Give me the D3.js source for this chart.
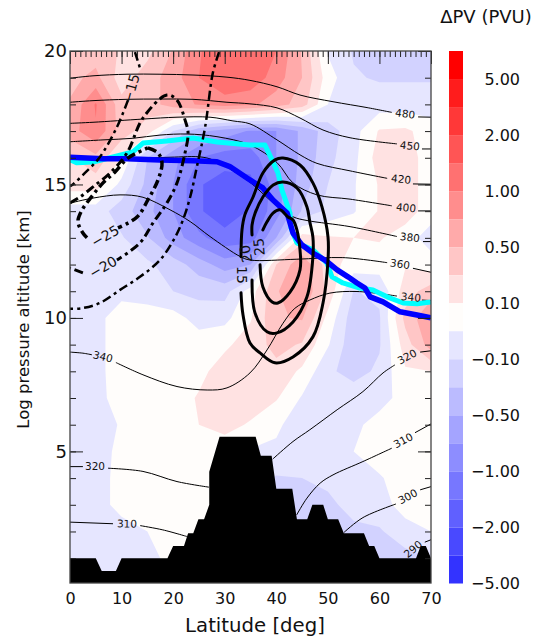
<!DOCTYPE html>
<html>
<head>
<meta charset="utf-8">
<script src="https://cdn.jsdelivr.net/npm/d3@7"></script>
<style>
  html, body { margin: 0; padding: 0; background: #fff; }
  svg { display: block; }
  text { font-family: "DejaVu Sans", sans-serif; fill: #111; }
</style>
</head>
<body>
<div id="chart-area"></div>
<script>
//============================DATA============================
// PV anomaly on a 5 deg x 1 km grid. Values are in colour bar
// steps (0 = the white step, +1 the first pink step, -1 the first blue step, ...)
var gridLats = [0, 5, 10, 15, 20, 25, 30, 35, 40, 45, 50, 55, 60, 65, 70];
var gridKms = [20, 19, 18, 17, 16, 15, 14, 13, 12, 11, 10, 9, 8, 7, 6, 5, 4, 3, 2, 1, 0];
var pvSteps = [
  [2, 2, 1.4, 1.2, 2.6, 4.4, 5.3, 5.4, 4.5, 2.4, -0.6, -1.6, -1.7, -1.9, -1.6],
  [2.2, 2.8, 1, 2, 3, 4.5, 5.4, 5.2, 4, 2.5, 0, -1.4, -1.6, -1.6, -1.6],
  [2.6, 4.6, 1.8, 2, 3, 3.6, 4, 3.7, 3, 2, -0.5, -1.2, -1, -1, -1],
  [3, 4.4, 2, 1, -1.5, -3.2, -4, -4.6, -4.5, -3.3, -2, -0.9, 0.6, 0.7, 0],
  [1.4, 2.2, 0.5, -2.5, -4.2, -5.5, -6, -6, -4.5, -3.3, -1.8, -0.8, 1, 1, 0],
  [1, 1, -0.8, -2.8, -4.5, -6.4, -7, -6.8, -5, -3, -1.5, -0.6, 0.6, 1, 0],
  [-1, -1, -2, -3.2, -4.5, -6.4, -7, -6.4, -5, -2.4, -1.2, -0.6, 0.6, 1, 0],
  [-1, -1, -1.4, -2.4, -4, -5.2, -6.2, -6, -3.5, 1, 0.6, 0.5, 0.6, 0, -1],
  [-1, -1, -1, -1.3, -2, -3, -4, -3.5, 1.5, 3.3, 1, 0, 0, 0.4, 0],
  [-1, -1, -0.8, -1, -1.5, -1.8, -1.9, 0, 2.4, 3.4, 1.2, -1.55, -1.3, 1, 2],
  [-1, -0.8, 0, 0, -0.1, -0.9, -0.8, 0.4, 2.4, 2.6, 0.2, -2.1, -1.6, 1.8, 3.4],
  [-1, -0.8, 0, 0, 0, 0, 0.3, 1, 1.8, 1.4, -0.4, -2.2, -1.6, 1, 3],
  [-1, -0.8, 0, 0, 0, 0.2, 1, 1.1, 1.2, 0.3, -1.3, -1.9, -1.3, 0.4, 0.5],
  [-1, -0.8, -0.1, 0, 0, 0.6, 1, 1, 0.6, -0.6, -1, -0.9, -1, 0, 0],
  [-1, -1, -0.4, 0, 0, 0.5, 0.8, 0.4, -0.4, -0.8, -1, -0.8, 0, 0, 0],
  [-1, -1, -0.2, 0, 0, 0, 0, -0.6, -0.6, -1, -1, -0.5, 0, 0, 0],
  [-1, -1, -0.1, 0, 0, 0, 0, -1, -1.6, -1.5, -1.3, -1, -0.6, 0, 0],
  [-1, -1, -0.1, 0, 0, 0, 0, -1, -1.6, -1.6, -1.7, -1.2, -1, 0, 0],
  [-1, -1, -1, -0.5, 0, 0, 0, -1, -1.6, -1.6, -1.7, -1.7, -1.6, -1, -0.5],
  [-1, -1, -1, -1, 0, 0, 0, -1, -2, -2, -2, -2, -2, -1.8, -1.5],
  [-1, -1, -1, -1, 0, 0, 0, -1, -2, -2, -2, -2, -2, -1.8, -1.5]
];

// colour bar, top to bottom
var barColors = ["#ff0000", "#ff1c1c", "#ff3838", "#ff5555", "#ff7171", "#ff8d8d", "#ffaaaa", "#ffc6c6", "#ffe2e2",
  "#fffdfb",
  "#e6e6ff", "#d2d2ff", "#bbbbff", "#a4a4ff", "#8d8dff", "#7777ff", "#6060ff", "#4949ff", "#3333ff"];
var barTickLabels = ["5.00", "2.00", "1.00", "0.50", "0.10", "\u22120.10", "\u22120.50", "\u22121.00", "\u22122.00", "\u22125.00"];

// isentropes as [lat, km], null = break for the inline label
var theta480 = [[0,18.98],[4.46,19.07],[11.05,19.13],[17.45,19.13],[23.85,19.10],[30.44,19.02],[34.9,18.9],[40.14,18.66],[44.6,18.35],[51,18.10],[57.6,17.88],[62.4,17.70],null,[67.5,17.53],[70,17.52]];
var theta450 = [[0,18.08],[4.46,18.14],[11.05,18.19],[17.45,18.20],[23.85,18.19],[30.44,18.08],[34.9,18.02],[40.14,17.87],[44.6,17.49],[49.06,17.04],[54.3,16.75],[63.4,16.52],null,[68.25,16.33],[70,16.33]];
var theta420 = [[0,17.29],[4.46,17.33],[14.15,17.45],[20.75,17.52],[27.15,17.52],[31.6,17.38],[34.9,17.27],[40.14,16.67],[44.6,16.11],[47.9,15.79],[54.3,15.51],[61.5,15.23],null,[66.5,15.02],[70,15.01]];
var theta400 = [[0,16.60],[6.4,16.67],[12.2,16.73],[17.45,16.85],[22.7,16.89],[28.5,16.79],[34.9,16.48],[40.14,15.82],[43.24,15.06],[47.9,14.61],[54.3,14.45],[62.4,14.2],null,[67.5,14.01],[70,14.01]];
var theta380 = [[0,15.85],[6.4,15.92],[12.2,15.96],[19.4,16.02],[25.8,16.02],[28.5,15.85],[34.9,15.08],[39.4,14.31],[43.24,13.79],[45.95,13.65],[54.3,13.42],[63.4,13.05],null,[68.45,12.86],[70,12.86]];
var theta360 = [[0,14.30],[4.46,14.49],[9.7,14.61],[14.15,14.52],[19.4,14.05],[23.3,13.61],[27.15,13.05],[33,12.30],[34.9,12.17],[44,12.2],[52.9,12.26],[61.5,12.07],null,[66.5,11.86],[70,11.71]];
var theta340 = [[0,8.72],[2.5,8.68],[4.27,8.62],null,[8.9,8.33],[14.15,7.87],[20.75,7.43],[26.6,7.30],[30.44,7.38],[34.9,7.94],[38.2,8.80],[41.3,9.80],[43.6,10.36],[46.5,10.67],[50.4,10.93],[55.65,10.99],[63.4,10.82],null,[68.25,10.67],[70,10.65]];
var theta320 = [[0,4.43],[2.5,4.43],null,[7.37,4.37],[14.15,4.25],[20.75,3.87],[26.95,3.66],null,[39.3,4.71],[43.24,5.37],[46.5,5.81],[51.8,6.56],[56.8,7.24],[60.7,7.94],[63,8.24],null,[67.9,8.72],[70,8.77]];
var theta310 = [[0,2.35],[8.34,2.29],null,[13.6,2.22],[18,2.06],[22.7,1.81],null,[43.95,2.62],[45.95,3.25],[48.5,3.81],[51,4.12],[56.8,4.62],[62.4,5.12],null,[66.9,5.70],[70,6.03]];
var theta300 = [[53.1,1.96],[56.8,2.52],[63.2,3.03],null,[67.9,3.56],[70,3.68]];
var theta290 = [[68.8,1.60],[70,1.69]];
var thetaLines = [theta480, theta450, theta420, theta400, theta380, theta360, theta340, theta320, theta310, theta300, theta290];

// inline labels: [text, lat, km, rotation]
var thetaLabels = [
  ["480", 65, 17.65, 7], ["450", 65.9, 16.45, 6], ["420", 64.2, 15.2, 6], ["400", 65.15, 14.13, 6],
  ["380", 65.9, 13.02, 6], ["360", 64, 12.02, 8], ["340", 6.4, 8.55, 14], ["340", 66.1, 10.78, 5],
  ["320", 4.85, 4.46, 0], ["320", 65.35, 8.55, -28], ["310", 11.05, 2.29, 1], ["310", 64.6, 5.41, -28],
  ["300", 65.5, 3.31, -28], ["290", 66.5, 1.34, -40]
];

// westerly wind contours
var wind15 = [[33.16,10.94],[33.55,10.11],[34.9,9.06],[36.85,8.69],[39.75,8.32],[43.24,8.54],[47.1,9.29],[49.06,10.56],[50.03,12.17],[50.03,13.03],[48.86,14.16],[47.1,15.06],[44.6,15.73],[41.3,15.99],[39.75,15.92],[37.4,15.43],[35.5,14.53],[33.9,13.86],[33.35,13.30],[33.16,12.29]];
var wind20 = [[35.3,11.42],[35.87,10.19],[38.2,9.48],[40.14,9.44],[43.24,9.85],[45.95,10.79],[47.1,12.29],[47.1,13.03],[46.5,13.60],[45.95,14.16],[44,14.87],[41.3,15.09],[39.4,14.98],[37.4,14.53],[35.9,13.93],[35.3,13.48],[35.3,13.11]];
var wind25 = [[36.85,11.99],[37.4,11.16],[39.2,10.6],[40.3,10.56],[42.66,10.97],[44.6,11.8],[44.6,12.55],[44,13.3],[43.24,13.67],[42.27,13.78],[40.7,14.05],[39.36,13.93],[38.2,13.6],[37.4,13.3]];

// easterly wind contours
var windMinus15a = [[12.6,19.96],[13.57,19.36],null,[11.25,18.16],[9.1,17.15],[5.8,16.03],[2.9,15.43],[0.4,14.98],[0,14.94]];
var windMinus15b = [[28.9,19.96],[27.7,19.18],[26.2,17.15],[24.6,15.66],[23.3,14.53],[21.9,13.67],[20.4,13.03],[17.45,12.17],[13.57,11.54],[9.7,11.05],[5.8,10.56],[2.5,10.37],[0,10.34]];
var windMinus20 = [[0,14.31],[1.94,14.53],[4.46,14.91],[7.76,15.43],[11.05,16.18],[14.15,17.49],[18.8,18.35],[20.75,18.16],[22.3,17.42],[22.9,16.93],[22.3,16.18],[20.75,15.06],[18.8,14.31],[16.1,13.56],[13.57,12.81],[9.1,12.17],null,[2.5,11.69],[0,11.87]];
var windMinus25 = [[15.1,16.37],[17.06,16.18],[17.84,15.81],[17.06,15.17],[15.1,14.42],[13,13.78],[9.3,13.37],null,[3.3,13.0],[2.5,13.18],[1.55,13.6],[2.13,13.97],[4.46,14.61],[6.4,15.06],[8.73,15.47],[11.25,15.99],[15.1,16.37]];

var windLabels = [
  ["25", 36.65, 12.66, -95], ["20", 34.1, 12.4, -100], ["15", 33.35, 11.61, 90],
  ["\u221215", 11.83, 18.6, -75], ["\u221225", 6.8, 13.07, -30], ["\u221220", 6.4, 11.91, -30]
];

// tropopause, two analyses
var tropoCyan = [[0,15.92],[1.36,15.81],[4.46,15.84],[8.34,16.03],[12.2,16.22],[14.15,16.55],[18.8,16.63],[23.85,16.74],[28.5,16.59],[34.9,16.48],[37.8,16.48],[39.17,15.92],[40.33,15.43],[41.1,14.79],[42.66,13.93],[42.85,13.37],[44,12.81],[47.1,12.55],[49.8,12.06],[50.8,11.54],[52.9,11.31],[56.2,11.12],[58.75,11.05],[62,10.75],[64.6,10.56],[67.3,10.53],[70,10.60]];
var tropoBlue = [[0,16.02],[6.4,15.96],[11.05,15.96],[17.45,15.92],[23.85,15.89],[28.5,15.85],[31,15.67],[34.9,15.17],[37.4,14.87],[39.36,14.42],[42.1,13.93],[43.24,13.18],[45,12.73],[47.1,12.43],[49.44,12.17],[51.8,11.8],[53.9,11.54],[55.65,11.31],[57.2,11.12],[58.2,10.79],[60.7,10.6],[64,10.23],[67.3,10.11],[70,10.0]];

// surface height
var terrain = [[0,1],[5,1],[6.15,0.52],[8.9,0.52],[10,1],[18.9,1],[20,1.46],[22.1,1.46],[22.9,1.93],[23.9,1.93],[24.9,2.46],[26,2.46],[27,3],[27,4.24],[29,5.55],[36,5.55],[37,4.84],[39.1,4.84],[40,3.6],[43.1,3.6],[44,2.46],[46,2.46],[47,3],[49.1,3],[50,2.46],[52,2.46],[53.1,1.93],[57,1.93],[58,1.46],[59,1.46],[60,1],[67.1,1],[68,1.46],[69,1.46],[70,1]];

var latTicks = [0, 10, 20, 30, 40, 50, 60, 70];
var kmTicks = [5, 10, 15, 20];

//============================LAYOUT============================
var margins = { left: 70, right: 110, top: 51, bottom: 54 };
var width = 541 - margins.left - margins.right;
var height = 637 - margins.top - margins.bottom;

var svg = d3.select("#chart-area").append("svg")
    .attr("width", 541)
    .attr("height", 637);

var g = svg.append("g")
    .attr("transform", "translate(" + margins.left + ", " + margins.top + ")");

var x = d3.scaleLinear().domain([0, 70]).range([0, width]);
var y = d3.scaleLinear().domain([0.07, 20]).range([height, 0]);

svg.append("defs").append("clipPath").attr("id", "plot-clip")
  .append("rect").attr("width", width).attr("height", height);

var plot = g.append("g").attr("clip-path", "url(#plot-clip)");

//============================FILLED CONTOURS============================
var nx = gridLats.length, ny = gridKms.length;
var flat = d3.merge(pvSteps);

// contour space has grid node i at i + 0.5
var gridPath = d3.geoPath(d3.geoTransform({
  point: function(px, py) {
    this.stream.point(x((px - 0.5) * 5), y(20 - (py - 0.5)));
  }
}));

plot.append("rect").attr("width", width).attr("height", height).attr("fill", barColors[9]);

var contours = d3.contours().size([nx, ny]);

// reds, weakest first, then the blues on negated values
for (let k = 1; k <= 9; ++k)
{
  plot.append("path")
    .attr("d", gridPath(contours.contour(flat, k - 0.5)))
    .attr("fill", barColors[9 - k]);
}
var flatNeg = flat.map(function(v) { return -v; });
for (let k = 1; k <= 9; ++k)
{
  plot.append("path")
    .attr("d", gridPath(contours.contour(flatNeg, k - 0.5)))
    .attr("fill", barColors[9 + k]);
}

//============================LINES============================
var smoothLine = d3.line()
  .defined(function(d) { return d !== null; })
  .curve(d3.curveCatmullRom)
  .x(function(d) { return x(d[0]); })
  .y(function(d) { return y(d[1]); });

var straightLine = d3.line()
  .x(function(d) { return x(d[0]); })
  .y(function(d) { return y(d[1]); });

thetaLines.forEach(function(line) {
  plot.append("path").attr("d", smoothLine(line))
    .attr("fill", "none").attr("stroke", "#000").attr("stroke-width", 1);
});

plot.append("path").attr("d", straightLine(tropoCyan))
  .attr("fill", "none").attr("stroke", "#00ffff").attr("stroke-width", 5).attr("stroke-linejoin", "round");
plot.append("path").attr("d", straightLine(tropoBlue))
  .attr("fill", "none").attr("stroke", "#0000ff").attr("stroke-width", 5.5).attr("stroke-linejoin", "round");

[wind15, wind20, wind25].forEach(function(line) {
  plot.append("path").attr("d", smoothLine(line))
    .attr("fill", "none").attr("stroke", "#000").attr("stroke-width", 3).attr("stroke-linecap", "round");
});

[[windMinus15a, 2.5], [windMinus15b, 2.5], [windMinus20, 3], [windMinus25, 3.5]].forEach(function(d) {
  plot.append("path").attr("d", smoothLine(d[0]))
    .attr("fill", "none").attr("stroke", "#000").attr("stroke-width", d[1])
    .attr("stroke-dasharray", "9,4,3,4");
});

plot.append("path")
  .attr("d", d3.area()
    .x(function(d) { return x(d[0]); })
    .y0(height)
    .y1(function(d) { return y(d[1]); })(terrain))
  .attr("fill", "#000");

//============================LABELS IN THE PLOT============================
function inlineLabels(rows, size)
{
  g.selectAll(null).data(rows).enter().append("text")
    .attr("transform", function(d) { return "translate(" + x(d[1]) + "," + y(d[2]) + ") rotate(" + d[3] + ")"; })
    .attr("text-anchor", "middle")
    .attr("dy", "0.36em")
    .attr("font-size", size)
    .text(function(d) { return d[0]; });
}
inlineLabels(thetaLabels, 10.5);
inlineLabels(windLabels, 14);

//============================AXES============================
function drawTicks(axis, transform, size)
{
  var a = g.append("g").attr("transform", transform)
    .call(axis.tickSize(size));
  a.select(".domain").remove();
  a.selectAll("line").attr("stroke", "#222").attr("stroke-width", 1);
  return a;
}

var minorLats = d3.range(0, 71);
var minorKms = d3.range(1, 21);

drawTicks(d3.axisBottom(x).tickValues(minorLats).tickFormat(""), "translate(0,0)", 6);
drawTicks(d3.axisBottom(x).tickValues(latTicks).tickFormat(""), "translate(0,0)", 13);
drawTicks(d3.axisLeft(y).tickValues(minorKms).tickFormat(""), "translate(0,0)", -6);
drawTicks(d3.axisRight(y).tickValues(minorKms).tickFormat(""), "translate(" + width + ",0)", -6);
drawTicks(d3.axisRight(y).tickValues(kmTicks).tickFormat(""), "translate(" + width + ",0)", -13);

var xAxisGroup = drawTicks(d3.axisBottom(x).tickValues(latTicks), "translate(0," + height + ")", 0);
xAxisGroup.selectAll("text").attr("font-size", 16).attr("y", 10);
var yAxisGroup = drawTicks(d3.axisLeft(y).tickValues(kmTicks), "translate(0,0)", -13);
yAxisGroup.selectAll("text").attr("font-size", 18).attr("x", -3);

g.append("rect").attr("width", width).attr("height", height)
  .attr("fill", "none").attr("stroke", "#444").attr("stroke-width", 1.3);

svg.append("text")
  .attr("x", 255).attr("y", 632)
  .attr("text-anchor", "middle").attr("font-size", 19.7)
  .text("Latitude [deg]");

svg.append("text")
  .attr("transform", "translate(29,319.5) rotate(-90)")
  .attr("text-anchor", "middle").attr("font-size", 16.5)
  .text("Log pressure altitude [km]");

//============================COLOUR BAR============================
var barY = d3.scaleBand().domain(d3.range(barColors.length)).range([margins.top, margins.top + height + 0.5]);
var barTickY = d3.scaleLinear().domain([0, barTickLabels.length - 1]).range([barY(1), barY.range()[1]]);

svg.selectAll(".bar-cell").data(barColors).enter().append("rect")
  .attr("class", "bar-cell")
  .attr("x", 449)
  .attr("y", function(d, i) { return barY(i); })
  .attr("width", 14)
  .attr("height", barY.bandwidth())
  .attr("fill", function(d) { return d; });

svg.selectAll(".bar-label").data(barTickLabels).enter().append("text")
  .attr("class", "bar-label")
  .attr("x", 520)
  .attr("y", function(d, i) { return barTickY(i); })
  .attr("dy", "0.36em")
  .attr("text-anchor", "end")
  .attr("font-size", 16)
  .text(function(d) { return d; });

svg.append("text")
  .attr("x", 486).attr("y", 23)
  .attr("text-anchor", "middle").attr("font-size", 18)
  .text("\u0394PV (PVU)");
</script>
</body>
</html>
